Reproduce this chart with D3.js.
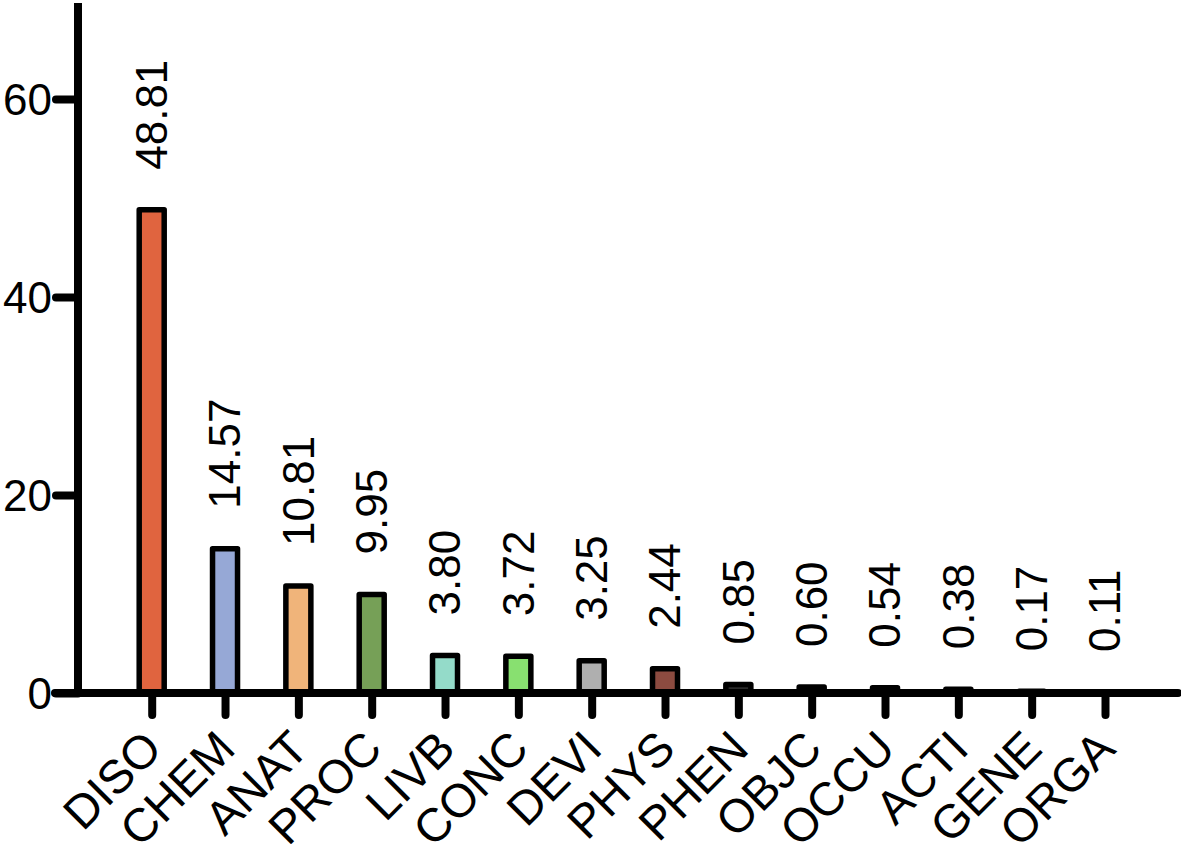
<!DOCTYPE html>
<html>
<head>
<meta charset="utf-8">
<script src="https://cdn.jsdelivr.net/npm/d3@7/dist/d3.min.js"></script>
<style>
  html, body { margin: 0; padding: 0; background: #fff; }
  svg { display: block; }
  text { font-family: "Liberation Sans", Arial, Helvetica, sans-serif; fill: #000; }
</style>
</head>
<body>
<svg id="chart" width="1181" height="844"></svg>
<script>
const categories = ["DISO","CHEM","ANAT","PROC","LIVB","CONC","DEVI","PHYS","PHEN","OBJC","OCCU","ACTI","GENE","ORGA"];
const values = [48.81, 14.57, 10.81, 9.95, 3.80, 3.72, 3.25, 2.44, 0.85, 0.60, 0.54, 0.38, 0.17, 0.11];
const valueLabels = ["48.81","14.57","10.81","9.95","3.80","3.72","3.25","2.44","0.85","0.60","0.54","0.38","0.17","0.11"];
const colors = ["#E0643F","#96A8D6","#F0B47A","#76A057","#94DBC9","#88E070","#AFAFAF","#8C4B40","#2a2a2a","#2a2a2a","#2a2a2a","#2a2a2a","#2a2a2a","#2a2a2a"];
const yTicks = [0, 20, 40, 60];

const svg = d3.select("#chart");
const axisX0 = 78, axisY0 = 693;

const x = d3.scalePoint().domain(categories).range([151.7, 1105]);
const y = d3.scaleLinear().domain([0, 70]).range([axisY0, 0]);

const fontSize = 44;
const catFontSize = 47;
const barW = 25;

// bars
svg.append("g").selectAll("rect").data(categories).join("rect")
  .attr("x", d => x(d) - barW / 2)
  .attr("y", (d, i) => y(values[i]))
  .attr("width", barW)
  .attr("height", (d, i) => y(0) - y(values[i]))
  .attr("fill", (d, i) => colors[i])
  .attr("stroke", "#000")
  .attr("stroke-width", 5.5)
  .attr("stroke-linejoin", "round");

// value labels
svg.append("g").selectAll("text").data(categories).join("text")
  .attr("transform", (d, i) => `translate(${x(d)},${y(values[i]) - 40}) rotate(-90)`)
  .attr("dy", "0.35em")
  .attr("text-anchor", "start")
  .style("font-size", fontSize + "px")
  .text((d, i) => valueLabels[i]);

// y axis
const yAxis = svg.append("g")
  .attr("transform", `translate(${axisX0},0)`)
  .call(d3.axisLeft(y).tickValues(yTicks).tickSize(23).tickPadding(3).tickSizeOuter(0).tickFormat(d3.format("d")));
yAxis.select(".domain").remove();
yAxis.selectAll(".tick line").attr("stroke", "#000").attr("stroke-width", 8).attr("stroke-linecap", "round").attr("x2", -22);
yAxis.selectAll(".tick text").style("font-size", fontSize + "px").attr("x", -26).attr("dy", "0.36em");
svg.append("line")
  .attr("x1", axisX0).attr("x2", axisX0)
  .attr("y1", y(0)).attr("y2", y(70) + 3)
  .attr("stroke", "#000").attr("stroke-width", 8);

// x axis
const xAxis = svg.append("g")
  .attr("transform", `translate(0,${axisY0})`)
  .call(d3.axisBottom(x).tickSize(24).tickSizeOuter(0));
xAxis.select(".domain").remove();
xAxis.selectAll(".tick line").attr("stroke", "#000").attr("stroke-width", 8).attr("stroke-linecap", "round").attr("y2", 22);
xAxis.selectAll(".tick text")
  .style("font-size", catFontSize + "px")
  .attr("text-anchor", "end")
  .attr("dy", null)
  .attr("y", null)
  .attr("transform", "translate(12,58) rotate(-45)");
svg.append("line")
  .attr("x1", 55).attr("x2", 1178)
  .attr("y1", axisY0).attr("y2", axisY0)
  .attr("stroke", "#000").attr("stroke-width", 8).attr("stroke-linecap", "round");
</script>
</body>
</html>
